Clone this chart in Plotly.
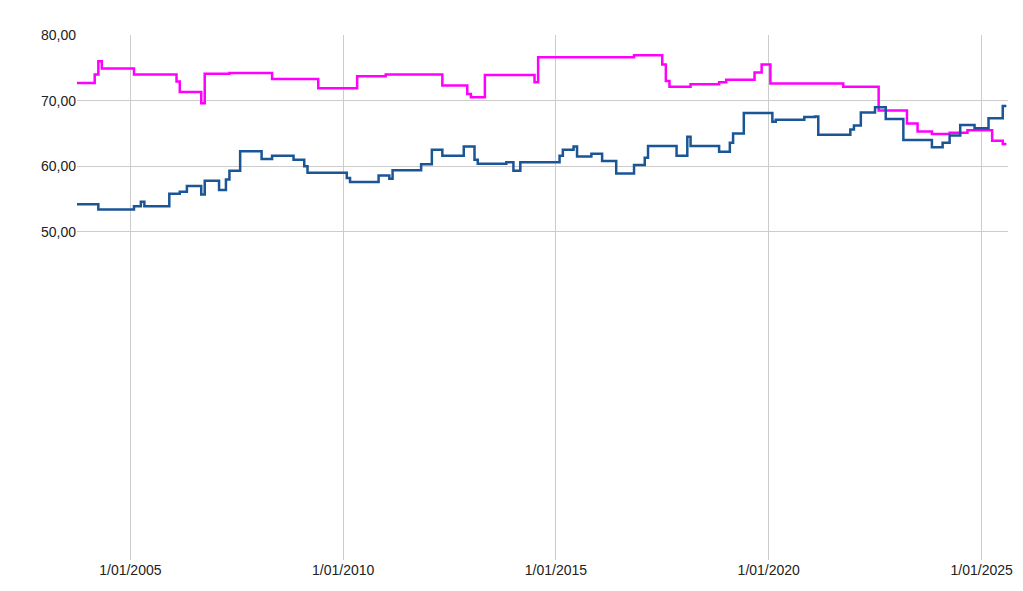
import plotly.graph_objects as go

# pink series (step values)
pink_dates = ["2003-10-01", "2004-03-01", "2004-04-01", "2004-05-01", "2005-02-01", "2006-02-01",
              "2006-03-01", "2006-09-01", "2006-10-01", "2007-05-01", "2008-05-01", "2009-06-01",
              "2010-05-01", "2011-01-01", "2012-05-01", "2012-12-01", "2013-01-01", "2013-05-01",
              "2014-07-01", "2014-08-01", "2016-11-01", "2017-07-01", "2017-08-01", "2017-09-01",
              "2018-03-01", "2018-11-01", "2019-01-01", "2019-09-01", "2019-11-01", "2020-01-15",
              "2021-10-01", "2022-08-01", "2023-04-01", "2023-07-01", "2023-11-01", "2024-04-01",
              "2024-09-01", "2025-04-01", "2025-07-01", "2025-08-01"]
pink_vals = [72.7, 74.0, 76.0, 74.9, 74.0, 72.9,
             71.3, 69.6, 74.1, 74.2, 73.3, 71.9,
             73.7, 74.0, 72.3, 71.0, 70.5, 73.9,
             72.8, 76.6, 76.9, 75.5, 73.0, 72.1,
             72.5, 72.8, 73.2, 74.3, 75.5, 72.6,
             72.1, 68.5, 66.5, 65.3, 64.9, 65.1,
             65.5, 63.9, 63.4, 63.4]

# blue series (step values)
blue_dates = ["2003-10-01", "2004-04-01", "2005-02-01", "2005-04-01", "2005-05-01", "2005-12-01",
              "2006-03-01", "2006-05-01", "2006-09-01", "2006-10-01", "2007-02-01", "2007-04-01",
              "2007-05-01", "2007-08-01", "2008-02-01", "2008-05-01", "2008-11-01", "2009-02-01",
              "2009-03-01", "2010-02-01", "2010-03-01", "2010-11-01", "2011-02-01", "2011-03-01",
              "2011-11-01", "2012-02-01", "2012-05-01", "2012-11-01", "2013-02-01", "2013-03-01",
              "2013-11-01", "2014-01-01", "2014-03-01", "2015-02-01", "2015-03-01", "2015-06-01",
              "2015-07-01", "2015-11-01", "2016-02-01", "2016-06-01", "2016-11-01", "2017-02-01",
              "2017-03-01", "2017-11-01", "2018-02-01", "2018-03-01", "2018-11-01", "2019-02-01",
              "2019-03-01", "2019-06-01", "2020-02-01", "2020-03-01", "2020-11-01", "2021-02-01",
              "2021-03-01", "2021-12-01", "2022-01-01", "2022-03-01", "2022-07-01", "2022-10-01",
              "2023-03-01", "2023-11-01", "2024-02-01", "2024-04-01", "2024-07-01", "2024-11-01",
              "2025-03-01", "2025-07-01", "2025-08-01"]
blue_vals = [54.2, 53.4, 53.9, 54.6, 53.9, 55.8,
             56.1, 57.0, 55.7, 57.8, 56.4, 58.0,
             59.3, 62.3, 61.1, 61.6, 61.0, 60.0,
             59.0, 58.2, 57.6, 58.6, 58.1, 59.4,
             60.3, 62.5, 61.6, 63.0, 61.0, 60.4,
             60.6, 59.3, 60.6, 61.6, 62.5, 63.0,
             61.5, 61.9, 60.8, 58.9, 60.2, 61.3,
             63.1, 61.6, 64.5, 63.1, 62.2, 63.6,
             65.0, 68.1, 66.8, 67.1, 67.5, 67.6,
             64.8, 65.6, 66.2, 68.2, 69.0, 67.2,
             64.0, 62.9, 63.6, 64.7, 66.3, 65.8,
             67.3, 69.2, 69.2]

y_ticks = [50, 60, 70, 80]
y_labels = ["50,00", "60,00", "70,00", "80,00"]
x_ticks = ["2005-01-01", "2010-01-01", "2015-01-01", "2020-01-01", "2025-01-01"]
x_labels = ["1/01/2005", "1/01/2010", "1/01/2015", "1/01/2020", "1/01/2025"]

fig = go.Figure()
fig.add_trace(go.Scatter(x=pink_dates, y=pink_vals, mode="lines", line_shape="hv",
                         line=dict(color="#ff00ff", width=2.5)))
fig.add_trace(go.Scatter(x=blue_dates, y=blue_vals, mode="lines", line_shape="hv",
                         line=dict(color="#1a5596", width=2.5)))

fig.update_layout(
    width=1023, height=591, showlegend=False,
    margin=dict(l=69, r=23, t=27, b=39, autoexpand=False),
    plot_bgcolor="white", paper_bgcolor="white",
    font=dict(family="Liberation Sans, Arial", size=14, color="#222"),
)
fig.update_xaxes(range=["2003-10-01", "2025-08-15"], tickvals=x_ticks, ticktext=x_labels,
                 showgrid=True, gridcolor="#cccccc", zeroline=False, showline=False, ticks="",
                 automargin=False)
fig.update_yaxes(range=[0, 80], tickvals=y_ticks, ticktext=y_labels,
                 showgrid=True, gridcolor="#cccccc", zeroline=False, ticks="",
                 automargin=False)

fig.write_html("out.html")
